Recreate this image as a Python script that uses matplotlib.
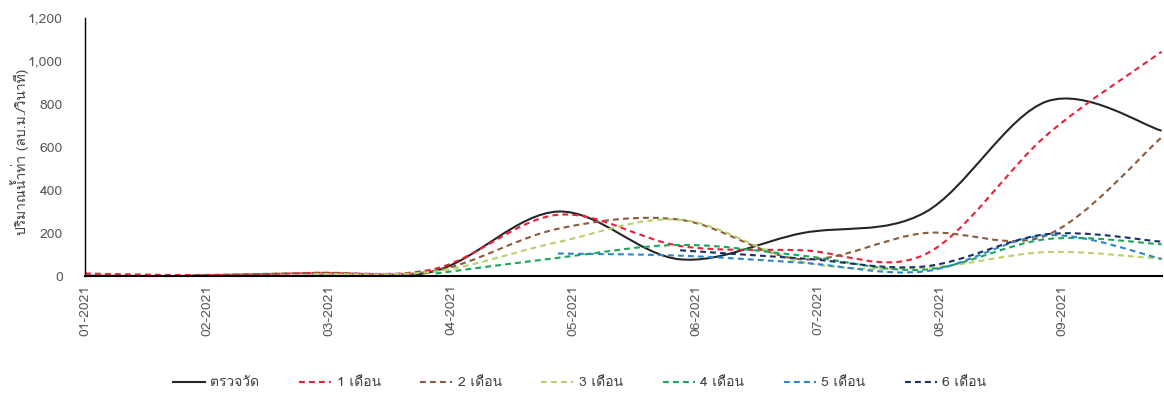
import matplotlib
matplotlib.use("Agg")
import matplotlib.pyplot as plt
from matplotlib import font_manager
from matplotlib.ft2font import FT2Font
from matplotlib.path import Path
from matplotlib.patches import PathPatch
from matplotlib.lines import Line2D
from matplotlib.ticker import FuncFormatter

# --- data ---
month_labels = ["01-2021", "02-2021", "03-2021", "04-2021", "05-2021",
                "06-2021", "07-2021", "08-2021", "09-2021"]
# time of each value, in months from the start of the axis
t_months = [0.0, 0.87, 1.87, 2.87, 3.87, 4.87, 5.87, 6.87, 7.87, 8.81]

observed = [2, 0, 2, 25, 300, 78, 200, 295, 812, 676]
lead_1 = [12, 5, 15, 35, 285, 140, 120, 100, 656, 1043]
lead_2 = [None, 3, 15, 25, 220, 262, 78, 200, 190, 645]
lead_3 = [None, None, 10, 22, 158, 262, 65, 38, 112, 80]
lead_4 = [None, None, None, 12, 85, 145, 95, 30, 172, 148]
lead_5 = [None, None, None, None, 105, 95, 62, 22, 190, 80]
lead_6 = [None, None, None, None, None, 120, 82, 45, 195, 160]

series_names = ["ตรวจวัด", "1 เดือน", "2 เดือน", "3 เดือน",
                "4 เดือน", "5 เดือน", "6 เดือน"]
series_vals = [observed, lead_1, lead_2, lead_3, lead_4, lead_5, lead_6]
colors = ["#262626", "#E8203A", "#8C5A3C", "#B8D06A",
          "#17A85A", "#2E86C8", "#1A2F66"]


# --- pick a font that has Thai glyphs ---
def find_thai_family():
    for f in font_manager.fontManager.ttflist:
        try:
            cmap = FT2Font(f.fname).get_charmap()
        except Exception:
            continue
        if ord("ต") in cmap and ord("น") in cmap:
            return f.name
    return None


thai = find_thai_family()
plt.rcParams["font.family"] = ([thai] if thai else []) + ["DejaVu Sans"]
plt.rcParams["font.size"] = 10


# --- Excel-like smoothed line (cubic Bezier through every point) ---
def smooth_path(xs, ys):
    pts = list(zip(xs, ys))
    n = len(pts)
    verts = [pts[0]]
    codes = [Path.MOVETO]
    for i in range(n - 1):
        p0 = pts[max(i - 1, 0)]
        p1 = pts[i]
        p2 = pts[i + 1]
        p3 = pts[min(i + 2, n - 1)]
        c1 = (p1[0] + (p2[0] - p0[0]) / 6, p1[1] + (p2[1] - p0[1]) / 6)
        c2 = (p2[0] - (p3[0] - p1[0]) / 6, p2[1] - (p3[1] - p1[1]) / 6)
        verts += [c1, c2, p2]
        codes += [Path.CURVE4] * 3
    return Path(verts, codes)


fig = plt.figure(figsize=(11.64, 3.99), dpi=100)
ax = fig.add_axes([0.073, 0.308, 0.925, 0.647])

handles = []
for name, vals, col in zip(series_names, series_vals, colors):
    xs = [t for t, v in zip(t_months, vals) if v is not None]
    ys = [v for v in vals if v is not None]
    if name == "ตรวจวัด":
        ls, lw = "-", 1.5
    else:
        ls, lw = (0, (2.8, 2)), 1.5
    ax.add_patch(PathPatch(smooth_path(xs, ys), fill=False, edgecolor=col,
                           linestyle=ls, linewidth=lw, capstyle="butt"))
    handles.append(Line2D([], [], color=col, linestyle=ls, linewidth=lw))

ax.set_xlim(0, 8.81)
ax.set_ylim(0, 1200)
ax.set_xticks(range(len(month_labels)))
ax.set_xticklabels(month_labels, rotation=90, color="#595959")
ax.set_yticks(range(0, 1201, 200))
ax.yaxis.set_major_formatter(FuncFormatter(lambda v, p: f"{int(v):,}"))
ax.tick_params(axis="y", length=0, pad=16, labelcolor="#595959")
ax.tick_params(axis="x", length=0, pad=6)

for side in ["top", "right"]:
    ax.spines[side].set_visible(False)
ax.spines["left"].set_color("black")
ax.spines["left"].set_linewidth(1.0)
ax.spines["bottom"].set_color("black")
ax.spines["bottom"].set_linewidth(1.5)

fig.text(0.017, 0.62, "ปริมาณน้ำท่า (ลบ.ม./วินาที)", rotation=90,
         ha="center", va="center", color="#404040", fontsize=10)

fig.legend(handles, series_names, loc="center", bbox_to_anchor=(0.498, 0.04),
           ncol=7, frameon=False, handlelength=2.3, columnspacing=2.85,
           handletextpad=0.4, labelcolor="#404040", fontsize=10)

fig.savefig("out.png", dpi=100)
